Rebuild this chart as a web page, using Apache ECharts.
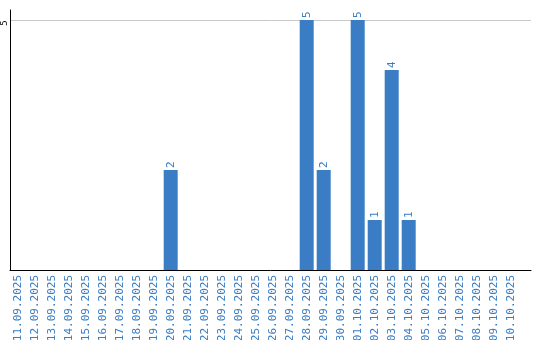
<!DOCTYPE html>
<html><head><meta charset="utf-8">
<script src="https://cdn.jsdelivr.net/npm/echarts@6/dist/echarts.min.js"></script>
<style>html,body{margin:0;padding:0;background:#fff}#c{width:540px;height:340px}</style>
</head><body><div id="c"></div>
<script>
var categories = ["11.09.2025","12.09.2025","13.09.2025","14.09.2025","15.09.2025","16.09.2025","17.09.2025","18.09.2025","19.09.2025","20.09.2025","21.09.2025","22.09.2025","23.09.2025","24.09.2025","25.09.2025","26.09.2025","27.09.2025","28.09.2025","29.09.2025","30.09.2025","01.10.2025","02.10.2025","03.10.2025","04.10.2025","05.10.2025","06.10.2025","07.10.2025","08.10.2025","09.10.2025","10.10.2025"];
var values = [0,0,0,0,0,0,0,0,0,2,0,0,0,0,0,0,0,5,2,0,5,1,4,1,0,0,0,0,0,0];
var yTicks = [5];

var blue = '#3b7dc4';
var chart = echarts.init(document.getElementById('c'), null, {renderer:'canvas'});
chart.setOption({
  animation:false,
  grid:[
    {left:10, right:9, top:10, bottom:70, outerBoundsMode:'none', containLabel:false},
    {left:9.2, width:510, top:10, bottom:70, outerBoundsMode:'none', containLabel:false}
  ],
  xAxis:[
    {type:'category', gridIndex:0, data:[''], axisLine:{lineStyle:{color:'#000',width:1}}, axisTick:{show:false}, axisLabel:{show:false}},
    {type:'category', gridIndex:1, data:categories, axisLine:{show:false}, axisTick:{show:false},
     axisLabel:{rotate:90, interval:0, margin:5, color:blue, fontFamily:'DejaVu Sans Mono', fontSize:11}}
  ],
  yAxis:[
    {type:'value', gridIndex:0, min:0, max:5.2, interval:5,
     axisLine:{show:true, lineStyle:{color:'#000',width:1}}, axisTick:{show:false},
     splitLine:{show:true, showMinLine:false, showMaxLine:false, lineStyle:{color:'#c8c8c8',width:1}},
     axisLabel:{rotate:90, margin:1, lineHeight:9, padding:[0,6,0,0], color:'#000', fontFamily:'DejaVu Sans Mono', fontSize:9, showMinLabel:false, showMaxLabel:false,
       formatter:function(v){return yTicks.indexOf(v)>=0 ? String(v) : '';}}},
    {type:'value', gridIndex:1, min:0, max:5.2, show:false}
  ],
  series:[{
    type:'bar', xAxisIndex:1, yAxisIndex:1, data:values.map(function(v){return v===0?null:v;}), barWidth:14,
    itemStyle:{color:blue},
    label:{show:true, position:'top', rotate:90, align:'left', verticalAlign:'middle', distance:2,
      color:blue, fontFamily:'DejaVu Sans Mono', fontSize:11}
  }]
});
</script></body></html>
